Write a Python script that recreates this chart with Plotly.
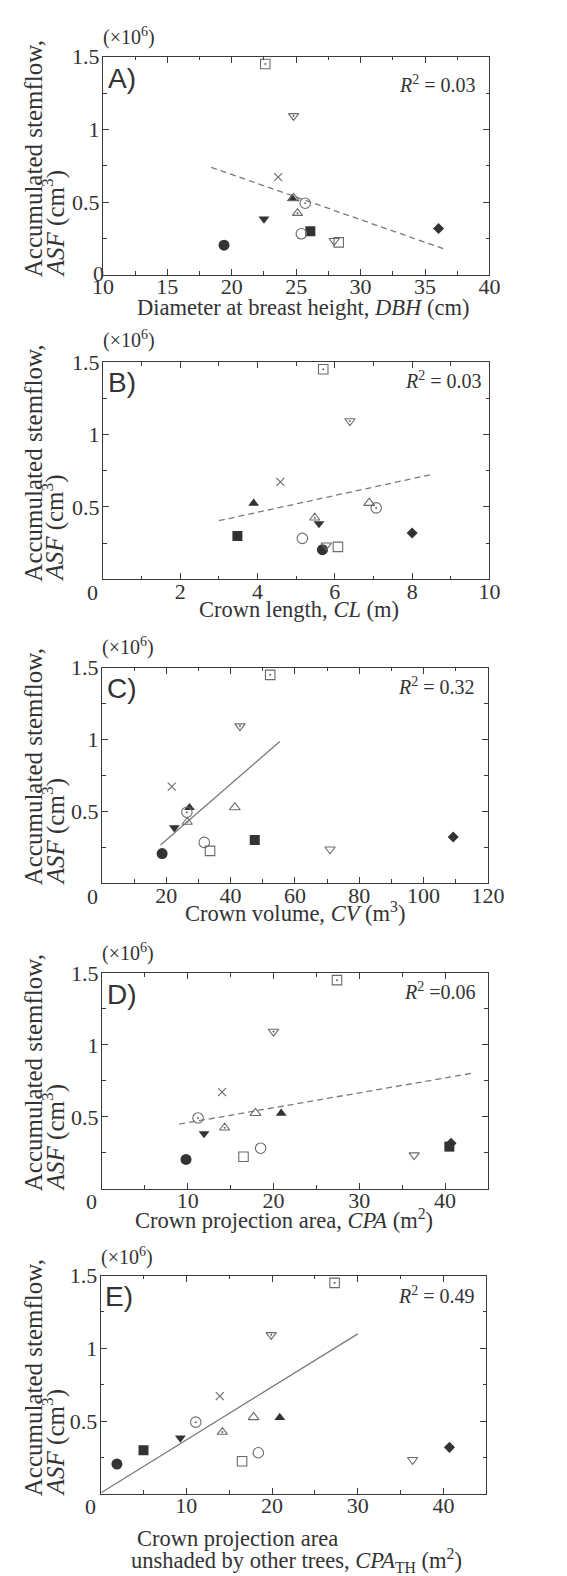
import plotly.graph_objects as go

# ---------------- data (ASF in 10^6 cm^3) ----------------
tree_symbols = ["circle", "square", "diamond", "triangle-up", "triangle-down",
                "x-thin-open", "square-open-dot", "triangle-down-open-dot",
                "circle-open-dot", "triangle-up-open-dot", "triangle-up-open",
                "circle-open", "square-open", "triangle-down-open"]
tree_filled = [True, True, True, True, True,
               False, False, False, False, False, False, False, False, False]
tree_sizes = [11, 10, 8.5, 9.5, 9.5, 8, 9.5, 9, 10.5, 9, 9.5, 10.5, 9.5, 9]

asf = [0.205, 0.30, 0.32, 0.525, 0.385, 0.672, 1.45, 1.093, 0.493, 0.425,
       0.527, 0.283, 0.224, 0.235]
asf_D = [0.205, 0.294, 0.317, 0.525, 0.385, 0.672, 1.45, 1.093, 0.493, 0.425,
         0.527, 0.283, 0.224, 0.235]

dbh = [19.4, 26.1, 36.05, 24.7, 22.5, 23.6, 22.6, 24.8, 25.7, 25.1, 24.8,
       25.4, 28.3, 27.95]
cl = [5.68, 3.48, 8.0, 3.9, 5.59, 4.59, 5.7, 6.39, 7.07, 5.48, 6.89, 5.16,
      6.08, 5.78]
cv = [18.7, 47.5, 109.2, 27.2, 22.5, 21.7, 52.3, 42.9, 26.4, 26.5, 41.3,
      31.8, 33.6, 70.9]
cpa = [9.8, 40.5, 40.7, 20.9, 11.9, 14.0, 27.4, 20.0, 11.2, 14.3, 17.9,
       18.5, 16.5, 36.4]
cpa_th = [1.9, 5.0, 40.7, 20.9, 9.3, 13.9, 27.3, 19.9, 11.1, 14.2, 17.85,
          18.4, 16.5, 36.4]

trend_A_x, trend_A_y = [18.4, 36.6], [0.74, 0.175]
trend_B_x, trend_B_y = [3.0, 8.5], [0.405, 0.724]
trend_C_x, trend_C_y = [18.2, 55.3], [0.265, 0.986]
trend_D_x, trend_D_y = [9.0, 43.4], [0.45, 0.806]
trend_E_x, trend_E_y = [0.1, 30.0], [0.01, 1.10]

r2_labels = ["0.03", "0.03", "0.32", "0.06", "0.49"]
r2_sep = [" = ", " = ", " = ", " =", " = "]
panel_letters = ["A)", "B)", "C)", "D)", "E)"]

x_titles = ["Diameter at breast height, <i>DBH</i> (cm)",
            "Crown length, <i>CL</i> (m)",
            "Crown volume, <i>CV</i> (m<sup>3</sup>)",
            "Crown projection area, <i>CPA</i> (m<sup>2</sup>)",
            None]

y_tickvals = [0.5, 1, 1.5]
y_ticktext = ["0.5", "1", "1.5"]

# ---------------- layout geometry ----------------
W, H = 567, 1576
def fx(px):
    return px / W
def fy(px):
    return 1 - px / H

SUP = 3.3  # shift to compensate box growth caused by superscripts

panels = [
    dict(xl=96.7, xr=503.3, yt=45, yb=265, xr_=[10, 40], minor=2.5,
         tickvals=[10, 15, 20, 25, 30, 35, 40], x=dbh, y=asf,
         tx=trend_A_x, ty=trend_A_y, dash=True, r2dy=30.5, r2r=491.7,
         lab=22.5, tenp=-17.3, xtcx=307, xtcy=298),
    dict(xl=96.7, xr=503.3, yt=352.7, yb=571.7, xr_=[0, 10], minor=1,
         tickvals=[2, 4, 6, 8, 10], x=cl, y=asf,
         tx=trend_B_x, ty=trend_B_y, dash=True, r2dy=21.5, r2r=498,
         lab=20.6, tenp=-19, xtcx=303, xtcy=602),
    dict(xl=95.7, xr=501.7, yt=660.7, yb=877.7, xr_=[0, 120], minor=10,
         tickvals=[20, 40, 60, 80, 100, 120], x=cv, y=asf,
         tx=trend_C_x, ty=trend_C_y, dash=False, r2dy=21.8, r2r=490.7,
         lab=21, tenp=-18.2, xtcx=299, xtcy=910 - SUP),
    dict(xl=95.7, xr=501.7, yt=968.3, yb=1186, xr_=[0, 45], minor=5,
         tickvals=[10, 20, 30, 40], x=cpa, y=asf_D,
         tx=trend_D_x, ty=trend_D_y, dash=True, r2dy=22, r2r=491.7,
         lab=21.7, tenp=-17, xtcx=287.5, xtcy=1220 - SUP),
    dict(xl=94.3, xr=500, yt=1273.3, yb=1493.3, xr_=[0, 45], minor=5,
         tickvals=[10, 20, 30, 40], x=cpa_th, y=asf,
         tx=trend_E_x, ty=trend_E_y, dash=False, r2dy=22.9, r2r=490,
         lab=20.8, tenp=-15.8, xtcx=300, xtcy=1564),
]

zero_pos = [(91.7, 263.8), (85.3, 585.3), (85.3, 891), (84.7, 1199), (83.3, 1506.3)]

FILL = "#333333"
OPEN = "#6a6a6a"
LINE = "#7a7a7a"
AX = "#3a3a3a"
TXT = "#333333"
SERIF = "Liberation Serif, Times New Roman, serif"
SANS = "Liberation Sans, Arial, sans-serif"

fig = go.Figure()
annotations = []
layout = {}

for i, p in enumerate(panels):
    n = "" if i == 0 else str(i + 1)
    xa, ya = "x" + n, "y" + n
    fig.add_trace(go.Scatter(
        x=p["tx"], y=p["ty"], mode="lines", xaxis=xa, yaxis=ya,
        line=dict(color=LINE, width=1.3, dash="6px,4px" if p["dash"] else "solid"),
        showlegend=False, hoverinfo="skip"))
    for k in range(len(tree_symbols)):
        filled = tree_filled[k]
        fig.add_trace(go.Scatter(
            x=[p["x"][k]], y=[p["y"][k]], mode="markers", xaxis=xa, yaxis=ya,
            marker=dict(symbol=tree_symbols[k], size=tree_sizes[k],
                        color=FILL if filled else OPEN,
                        line=dict(width=0 if filled else 1.1,
                                  color=FILL if filled else OPEN)),
            showlegend=False))

    common = dict(showline=True, linecolor=AX, linewidth=1.2, mirror="ticks",
                  ticks="inside", ticklen=6, tickwidth=1, tickcolor=AX,
                  showgrid=False, zeroline=False,
                  tickfont=dict(family=SERIF, size=22, color=TXT))
    layout["xaxis" + n] = dict(
        domain=[fx(p["xl"]), fx(p["xr"])], anchor=ya, range=p["xr_"],
        tickvals=p["tickvals"], ticktext=[str(v) for v in p["tickvals"]],
        minor=dict(ticks="inside", ticklen=3.5, dtick=p["minor"], tick0=0,
                   tickcolor=AX, tickwidth=1, showgrid=False),
        ticklabelstandoff=-8, **common)
    layout["yaxis" + n] = dict(
        domain=[fy(p["yb"]), fy(p["yt"])], anchor=xa, range=[0, 1.5],
        tickvals=y_tickvals, ticktext=y_ticktext,
        minor=dict(ticks="inside", ticklen=3.5, dtick=0.25, tick0=0,
                   tickcolor=AX, tickwidth=1, showgrid=False),
        ticklabelstandoff=-2, **common)

    annotations.append(dict(text=panel_letters[i], xref="paper", yref="paper",
                            x=fx(p["xl"] + 3), y=fy(p["yt"] + p["lab"]),
                            xanchor="left", yanchor="middle", showarrow=False,
                            font=dict(family=SANS, size=28, color=TXT)))
    annotations.append(dict(text="<i>R</i><sup>2</sup>" + r2_sep[i] + r2_labels[i],
                            xref="paper", yref="paper",
                            x=fx(p["r2r"]), y=fy(p["yt"] + p["r2dy"] - SUP),
                            xanchor="right", yanchor="middle", showarrow=False,
                            font=dict(family=SERIF, size=20, color=TXT)))
    annotations.append(dict(text="(×10<sup>6</sup>)", xref="paper", yref="paper",
                            x=fx(p["xl"] - 2), y=fy(p["yt"] + p["tenp"] - SUP),
                            xanchor="left", yanchor="middle", showarrow=False,
                            font=dict(family=SERIF, size=20, color=TXT)))
    annotations.append(dict(text="Accumulated stemflow,", xref="paper", yref="paper",
                            x=fx(24), y=fy(p["yb"] + 4), textangle=-90,
                            xanchor="center", yanchor="bottom", showarrow=False,
                            font=dict(family=SERIF, size=25, color=TXT)))
    annotations.append(dict(text="<i>ASF</i> (cm<sup>3</sup>)", xref="paper", yref="paper",
                            x=fx(45), y=fy(p["yb"] + 4), textangle=-90,
                            xanchor="center", yanchor="bottom", showarrow=False,
                            font=dict(family=SERIF, size=25, color=TXT)))
    zx, zy = zero_pos[i]
    annotations.append(dict(text="0", xref="paper", yref="paper",
                            x=fx(zx), y=fy(zy), xanchor="center", yanchor="middle",
                            showarrow=False, font=dict(family=SERIF, size=22, color=TXT)))
    if x_titles[i] is not None:
        annotations.append(dict(text=x_titles[i], xref="paper", yref="paper",
                                x=fx(p["xtcx"]), y=fy(p["xtcy"]),
                                xanchor="center", yanchor="middle", showarrow=False,
                                font=dict(family=SERIF, size=22.5, color=TXT)))

annotations.append(dict(text="Crown projection area", xref="paper", yref="paper",
                        x=fx(130), y=fy(1538), xanchor="left", yanchor="middle",
                        showarrow=False, font=dict(family=SERIF, size=22.5, color=TXT)))
annotations.append(dict(text="unshaded by other trees, <i>CPA</i><sub>TH</sub> (m<sup>2</sup>)",
                        xref="paper", yref="paper",
                        x=fx(300), y=fy(1560), xanchor="center", yanchor="middle",
                        showarrow=False, font=dict(family=SERIF, size=22.5, color=TXT)))

fig.update_layout(width=W, height=H, margin=dict(l=0, r=0, t=0, b=0),
                  paper_bgcolor="white", plot_bgcolor="white",
                  annotations=annotations, **layout)

fig.write_html("out.html")
